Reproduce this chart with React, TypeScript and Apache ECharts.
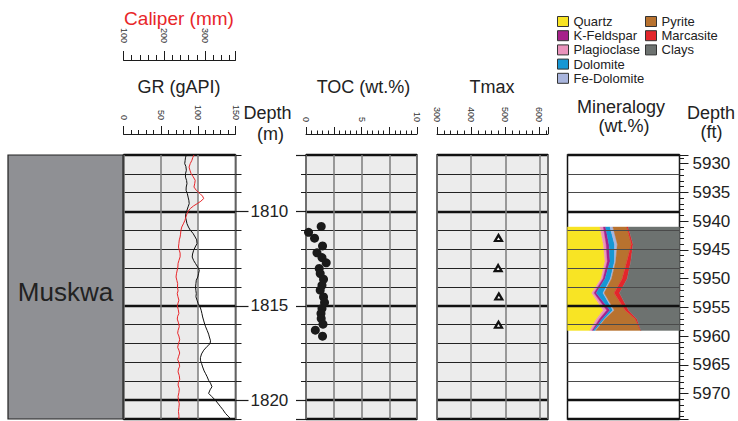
import React, { useEffect, useRef } from 'react';
import * as echarts from 'echarts';

// ---------- data ----------
const DEPTH_MIN_M = 1807;
const DEPTH_MAX_M = 1821;
const M_PER_FT = 0.3048;

const GR_DEPTH = [1807.0, 1807.15, 1807.3, 1807.46, 1807.6, 1807.81, 1808.0, 1808.17, 1808.35, 1808.52, 1808.7, 1808.87, 1809.05, 1809.23, 1809.4, 1809.58, 1809.75, 1809.93, 1810.1, 1810.29, 1810.45, 1810.64, 1810.82, 1810.99, 1811.15, 1811.35, 1811.5, 1811.7, 1811.88, 1812.05, 1812.25, 1812.41, 1812.6, 1812.76, 1812.95, 1813.11, 1813.3, 1813.47, 1813.64, 1813.82, 1814.0, 1814.2, 1814.35, 1814.52, 1814.7, 1814.88, 1815.05, 1815.23, 1815.4, 1815.59, 1815.8, 1816.0, 1816.11, 1816.3, 1816.5, 1816.65, 1816.85, 1817.0, 1817.15, 1817.35, 1817.55, 1817.75, 1817.88, 1818.05, 1818.24, 1818.45, 1818.6, 1818.76, 1818.95, 1819.1, 1819.29, 1819.45, 1819.64, 1819.8, 1820.0, 1820.15, 1820.35, 1820.5, 1820.7, 1820.85, 1821.0];
const GR_VALUE = [84, 83, 82.5, 82, 83.5, 84.2, 83, 83, 84.5, 85, 84, 83.8, 85.5, 86.5, 87.5, 88, 86.5, 85, 83.5, 83, 84, 85, 87, 89.5, 93, 96, 98, 98.5, 96, 94, 92.5, 92, 94, 96.5, 99.5, 101.5, 100.5, 99.5, 97.5, 97, 96.5, 97, 97.5, 97, 98.5, 100, 102.5, 104, 105, 106, 107.5, 109, 110, 112, 114, 115, 116.5, 116, 112, 107.5, 104.5, 103, 103, 104.5, 106, 108, 110, 112, 114, 116.5, 118.5, 116, 114, 118, 123, 126, 130, 133, 136.5, 140, 144];

const CAL_DEPTH = [1807.0, 1807.14, 1807.28, 1807.45, 1807.64, 1807.8, 1807.99, 1808.15, 1808.34, 1808.5, 1808.7, 1808.88, 1809.05, 1809.18, 1809.31, 1809.45, 1809.58, 1809.7, 1809.84, 1809.98, 1810.11, 1810.3, 1810.46, 1810.65, 1810.82, 1811.0, 1811.2, 1811.35, 1811.5, 1811.7, 1811.88, 1812.05, 1812.2, 1812.4, 1812.6, 1812.75, 1812.94, 1813.1, 1813.3, 1813.47, 1813.65, 1813.82, 1814.0, 1814.2, 1814.35, 1814.5, 1814.7, 1814.85, 1815.0, 1815.2, 1815.4, 1815.55, 1815.7, 1815.9, 1816.1, 1816.3, 1816.45, 1816.6, 1816.8, 1817.0, 1817.2, 1817.35, 1817.5, 1817.7, 1817.85, 1818.0, 1818.2, 1818.35, 1818.5, 1818.7, 1818.9, 1819.05, 1819.2, 1819.4, 1819.6, 1819.8, 1820.0, 1820.2, 1820.4, 1820.6, 1820.8, 1821.0];
const CAL_VALUE = [273, 270, 268, 264, 261, 263, 266, 271, 276, 275, 273, 279, 288, 294, 297, 290, 281, 272, 264, 259, 256, 253, 251, 247, 243, 241, 240, 239, 237, 236, 235, 237, 239, 239, 236, 234, 233.5, 232, 230, 229, 231, 233, 232.5, 234, 232, 233.5, 236, 234, 232, 234.5, 236, 233, 232, 235, 237, 234, 233, 236, 238, 235, 233, 236, 238, 235, 233, 236, 238, 235, 234, 237, 238, 235, 234, 237, 236, 234, 235, 237, 236, 235, 236, 236];

const TOC_DEPTH = [1810.79, 1811.1, 1811.41, 1811.82, 1812.19, 1812.44, 1812.72, 1813.02, 1813.29, 1813.59, 1813.91, 1814.17, 1814.53, 1814.82, 1815.14, 1815.4, 1815.67, 1815.97, 1816.29, 1816.61];
const TOC_VALUE = [1.37, 0.23, 0.77, 1.49, 0.99, 1.44, 1.82, 1.19, 1.28, 1.58, 1.44, 1.28, 1.58, 1.67, 1.44, 1.35, 1.37, 1.53, 0.84, 1.49];

const TMAX_DEPTH = [1811.4, 1813.0, 1814.5, 1816.0];
const TMAX_VALUE = [480, 479, 481, 480];

const FORMATION_NAME = ['Muskwa'];
const FORMATION_TOP = [1807];
const FORMATION_BASE = [1821];

// mineralogy (wt.%), depth in feet
const MIN_DEPTH_FT = [5941, 5944, 5947, 5950, 5952.5, 5955.5, 5957, 5959];
const QUARTZ = [29, 32, 33.5, 30, 21.7, 32, 26, 20];
const PLAGIOCLASE = [3, 2.5, 2, 1.7, 2, 3, 2.5, 2];
const K_FELDSPAR = [2, 2.5, 2.5, 1.8, 2, 3, 2.5, 1.2];
const DOLOMITE = [4, 5, 4, 4.8, 6, 2.5, 2, 1.5];
const FE_DOLOMITE = [2.5, 2.5, 1, 1, 1, 1.2, 0.5, 0.5];
const PYRITE = [12.5, 12.5, 10, 9.5, 9, 9.8, 27, 40];
const MARCASITE = [1.2, 1.5, 3.5, 4.5, 4.7, 3, 1.5, 0.3];
const CLAYS = [45.8, 41.5, 43.5, 46.7, 53.6, 45.5, 38, 34.5];

// stacking order (left to right)
const MINERAL_STACK: [string, number[]][] = [
  ['Quartz', QUARTZ],
  ['Plagioclase', PLAGIOCLASE],
  ['K-Feldspar', K_FELDSPAR],
  ['Dolomite', DOLOMITE],
  ['Fe-Dolomite', FE_DOLOMITE],
  ['Pyrite', PYRITE],
  ['Marcasite', MARCASITE],
  ['Clays', CLAYS],
];
const LEGEND_COL1 = ['Quartz', 'K-Feldspar', 'Plagioclase', 'Dolomite', 'Fe-Dolomite'];
const LEGEND_COL2 = ['Pyrite', 'Marcasite', 'Clays'];

// ---------- styles ----------
const FONT = '"Liberation Sans", Arial, Helvetica, sans-serif';
const MINERAL_COLORS: Record<string, string> = {
  Quartz: '#f8e424',
  'K-Feldspar': '#a6218a',
  Plagioclase: '#ea93bc',
  Dolomite: '#1797d4',
  'Fe-Dolomite': '#a9b5dd',
  Pyrite: '#b8722f',
  Marcasite: '#e3262b',
  Clays: '#6d7270',
};
const INK = '#1c1c1c';

function buildOption() {
  const thinSplit = { show: true, lineStyle: { color: '#222', width: 1.1 } };
  const thickSplit = { show: true, lineStyle: { color: '#111', width: 2.4 } };

  const meterAxis = (gridIndex: number, opts: any) => ({
    type: 'value',
    gridIndex,
    min: DEPTH_MIN_M,
    max: DEPTH_MAX_M,
    inverse: true,
    axisLine: { show: false, onZero: false },
    axisLabel: { show: false },
    axisTick: { show: false },
    splitLine: { show: false },
    ...opts,
  });

  const topAxis = (gridIndex: number, opts: any) => ({
    type: 'value',
    gridIndex,
    position: 'top',
    axisLine: { show: true, onZero: false, lineStyle: { color: INK, width: 1 } },
    ...opts,
  });

  const grBg = new echarts.graphic.LinearGradient(0, 0, 1, 0, [
    { offset: 0, color: '#ebebeb' },
    { offset: 100 / 150, color: '#ebebeb' },
    { offset: 100 / 150, color: '#ffffff' },
    { offset: 1, color: '#ffffff' },
  ]);

  const gridBase = { top: 155, height: 264, containLabel: false, outerBoundsMode: 'none' };

  const grid = [
    { ...gridBase, left: 8, width: 115, show: false },
    { ...gridBase, left: 123.5, width: 112, show: true, backgroundColor: grBg, borderColor: '#111', borderWidth: 1.5 },
    { ...gridBase, left: 306, width: 111, show: true, backgroundColor: '#ececec', borderColor: '#111', borderWidth: 1.5 },
    { ...gridBase, left: 437, width: 111, show: true, backgroundColor: '#ececec', borderColor: '#111', borderWidth: 1.5 },
    { ...gridBase, left: 567.5, width: 112, show: true, backgroundColor: '#ffffff', borderColor: '#111', borderWidth: 1.5 },
  ];

  const smallLabel = { color: '#333', fontSize: 9, fontFamily: FONT, rotate: 90 };

  const xAxis = [
    { type: 'value', gridIndex: 0, min: 0, max: 1, show: false },
    topAxis(1, {
      offset: 21, min: 0, max: 150, interval: 50,
      axisTick: { show: true, length: 8, lineStyle: { color: INK } },
      minorTick: { show: true, splitNumber: 5, length: 4, lineStyle: { color: INK } },
      axisLabel: { ...smallLabel, margin: 14, showMinLabel: true, showMaxLabel: true },
      splitLine: { show: true, lineStyle: { color: '#7d7d7d', width: 1.5 } },
    }),
    topAxis(1, {
      offset: 95, min: 100, max: 375, interval: 100,
      axisTick: { show: true, length: 9, lineStyle: { color: INK } },
      minorTick: { show: true, splitNumber: 5, length: 5, lineStyle: { color: INK } },
      axisLabel: { ...smallLabel, margin: 17, showMinLabel: true, showMaxLabel: false, formatter: (v: number) => (v % 100 === 0 ? String(v) : '') },
      splitLine: { show: false },
    }),
    topAxis(2, {
      offset: 21, min: 0, max: 10, interval: 2.5,
      axisTick: { show: true, length: 7, lineStyle: { color: INK } },
      minorTick: { show: true, splitNumber: 5, length: 3.5, lineStyle: { color: INK } },
      axisLabel: { ...smallLabel, margin: 12, showMinLabel: true, showMaxLabel: true, formatter: (v: number) => (v % 5 === 0 ? String(v) : '') },
      splitLine: { show: true, lineStyle: { color: '#7d7d7d', width: 1.5 } },
    }),
    topAxis(3, {
      offset: 21, min: 300, max: 625, interval: 100,
      axisTick: { show: true, length: 7, lineStyle: { color: INK } },
      minorTick: { show: true, splitNumber: 5, length: 3.5, lineStyle: { color: INK } },
      axisLabel: { ...smallLabel, margin: 12, showMinLabel: true, showMaxLabel: false, formatter: (v: number) => (v % 100 === 0 ? String(v) : '') },
      splitLine: { show: true, lineStyle: { color: '#7d7d7d', width: 1.5 } },
    }),
    { type: 'value', gridIndex: 4, min: 0, max: 100, show: false },
  ];

  const yAxis = [
    meterAxis(0, { show: false }),
    // GR: metre grid + ticks towards the depth column
    meterAxis(1, {
      position: 'right', interval: 1,
      axisTick: { show: true, length: 6, lineStyle: { color: INK } },
      splitLine: thinSplit,
    }),
    meterAxis(1, {
      position: 'right', splitNumber: 3,
      axisTick: { show: true, length: 13, lineStyle: { color: INK, width: 1.2 } },
      axisLabel: { show: true, margin: 15, fontSize: 17, color: '#222', fontFamily: FONT, showMinLabel: false, showMaxLabel: false, formatter: (v: number) => (v % 5 === 0 ? String(v) : '') },
      splitLine: thickSplit,
    }),
    // TOC
    meterAxis(2, {
      position: 'left', interval: 1,
      axisTick: { show: true, length: 5, lineStyle: { color: INK } },
      splitLine: thinSplit,
    }),
    meterAxis(2, {
      position: 'left', splitNumber: 3,
      axisTick: { show: true, length: 10, lineStyle: { color: INK, width: 1.2 } },
      splitLine: thickSplit,
    }),
    // Tmax
    meterAxis(3, { position: 'left', interval: 1, splitLine: thinSplit }),
    meterAxis(3, { position: 'left', splitNumber: 3, splitLine: thickSplit }),
    // Mineralogy (grid drawn over the colours)
    meterAxis(4, { position: 'left', interval: 1, z: 3, splitLine: { show: true, lineStyle: { color: '#4a4a4a', width: 1.1 } } }),
    meterAxis(4, { position: 'left', splitNumber: 3, z: 3, splitLine: thickSplit }),
    {
      type: 'value', gridIndex: 4, position: 'right', inverse: true,
      min: DEPTH_MIN_M / M_PER_FT, max: DEPTH_MAX_M / M_PER_FT, splitNumber: 9,
      axisLine: { show: true, onZero: false, lineStyle: { color: INK, width: 1 } },
      axisTick: { show: true, length: 9, lineStyle: { color: INK } },
      minorTick: { show: true, splitNumber: 5, length: 4.5, lineStyle: { color: INK } },
      axisLabel: { show: true, margin: 13, fontSize: 17, color: '#222', fontFamily: FONT, showMinLabel: false, showMaxLabel: false, formatter: (v: number) => (v % 5 === 0 ? String(v) : '') },
      splitLine: { show: false },
    },
  ];

  // cumulative boundaries of the mineral stack
  const cum: number[][] = [MIN_DEPTH_FT.map(() => 0)];
  MINERAL_STACK.forEach(([, vals], k) => {
    cum.push(cum[k].map((c, i) => c + vals[i]));
  });

  const mineralSeries = MINERAL_STACK.map(([name], k) => {
    const lower = cum[k];
    const upper = cum[k + 1];
    const color = MINERAL_COLORS[name];
    return {
      type: 'custom',
      name,
      xAxisIndex: 5,
      yAxisIndex: 9,
      z: 2,
      itemStyle: { color, borderColor: '#333', borderWidth: 1 },
      data: MIN_DEPTH_FT.map((d, i) => [lower[i], upper[i], d]),
      encode: { x: [0, 1], y: 2 },
      renderItem: (params: any, api: any) => {
        if (params.dataIndex !== 0) return null;
        const pts: number[][] = [];
        for (let i = 0; i < MIN_DEPTH_FT.length; i++) pts.push(api.coord([lower[i], MIN_DEPTH_FT[i]]));
        for (let i = MIN_DEPTH_FT.length - 1; i >= 0; i--) pts.push(api.coord([upper[i], MIN_DEPTH_FT[i]]));
        return { type: 'polygon', shape: { points: pts }, style: { fill: color, stroke: color, lineWidth: 0.4 } };
      },
    };
  });

  const series: any[] = [
    {
      type: 'custom',
      name: 'Formation',
      xAxisIndex: 0,
      yAxisIndex: 0,
      data: FORMATION_NAME.map((n, i) => [0, FORMATION_TOP[i], FORMATION_BASE[i]]),
      encode: { x: 0, y: [1, 2] },
      renderItem: (params: any, api: any) => {
        const a = api.coord([0, api.value(1)]);
        const b = api.coord([1, api.value(2)]);
        return {
          type: 'group',
          children: [
            { type: 'rect', shape: { x: a[0], y: a[1], width: b[0] - a[0], height: b[1] - a[1] }, style: { fill: '#8f9094', stroke: '#222', lineWidth: 1.2 } },
            { type: 'text', style: { text: FORMATION_NAME[params.dataIndex], x: (a[0] + b[0]) / 2, y: (a[1] + b[1]) / 2 + 5, textAlign: 'center', textVerticalAlign: 'middle', font: `26px ${FONT}`, fill: '#222' } },
          ],
        };
      },
    },
    {
      type: 'line', name: 'GR', xAxisIndex: 1, yAxisIndex: 1, z: 3,
      data: GR_DEPTH.map((d, i) => [GR_VALUE[i], d]),
      symbol: 'none', showSymbol: false,
      lineStyle: { color: '#111', width: 1 },
    },
    {
      type: 'line', name: 'Caliper', xAxisIndex: 2, yAxisIndex: 1, z: 3,
      data: CAL_DEPTH.map((d, i) => [CAL_VALUE[i], d]),
      symbol: 'none', showSymbol: false,
      lineStyle: { color: '#e8262a', width: 1 },
    },
    {
      type: 'scatter', name: 'TOC', xAxisIndex: 3, yAxisIndex: 3, z: 5,
      data: TOC_DEPTH.map((d, i) => [TOC_VALUE[i], d]),
      symbol: 'circle', symbolSize: 9,
      itemStyle: { color: '#1a1a1a', opacity: 1 },
    },
    {
      type: 'scatter', name: 'Tmax', xAxisIndex: 4, yAxisIndex: 5, z: 5,
      data: TMAX_DEPTH.map((d, i) => [TMAX_VALUE[i], d]),
      symbol: 'triangle', symbolSize: [7, 6],
      itemStyle: { color: '#ffffff', borderColor: '#111', borderWidth: 2.2, opacity: 1 },
    },
    ...mineralSeries,
  ];

  const legendBase = {
    orient: 'vertical', top: 15, itemWidth: 11, itemHeight: 10, itemGap: 1.2,
    icon: 'rect', selectedMode: false,
    textStyle: { fontSize: 13, color: '#222', fontFamily: FONT },
    itemStyle: { borderColor: '#333', borderWidth: 1 },
    padding: 0,
  };
  const legend = [
    { ...legendBase, left: 557, data: LEGEND_COL1 },
    { ...legendBase, left: 645, data: LEGEND_COL2 },
  ];

  const title = (text: string, x: number, y: number, size: number, color = '#222') => ({
    type: 'text', x, y, silent: true,
    style: { text, fill: color, font: `${size}px ${FONT}`, textAlign: 'center', textVerticalAlign: 'middle' },
  });

  const graphic = [
    title('Caliper (mm)', 179, 18.5, 19, '#e8262a'),
    title('GR (gAPI)', 179, 86.5, 18),
    title('TOC (wt.%)', 363.5, 86.5, 18),
    title('Tmax', 492, 86.5, 18),
    title('Mineralogy', 621, 107, 18),
    title('(wt.%)', 624, 126, 18),
    title('Depth', 267.5, 113, 18),
    title('(m)', 270.5, 134, 18),
    title('Depth', 711, 113, 18),
    title('(ft)', 711.5, 132, 18),
  ];

  return {
    animation: false,
    backgroundColor: '#ffffff',
    textStyle: { fontFamily: FONT },
    grid,
    xAxis,
    yAxis,
    legend,
    graphic,
    series,
  };
}

export default function App() {
  const ref = useRef<HTMLDivElement>(null);
  useEffect(() => {
    if (!ref.current) return;
    const chart = echarts.init(ref.current, null, { renderer: 'svg' });
    chart.setOption(buildOption() as any);
    return () => chart.dispose();
  }, []);
  return <div ref={ref} style={{ position: 'fixed', left: 0, top: 0, width: 738, height: 421 }} />;
}
